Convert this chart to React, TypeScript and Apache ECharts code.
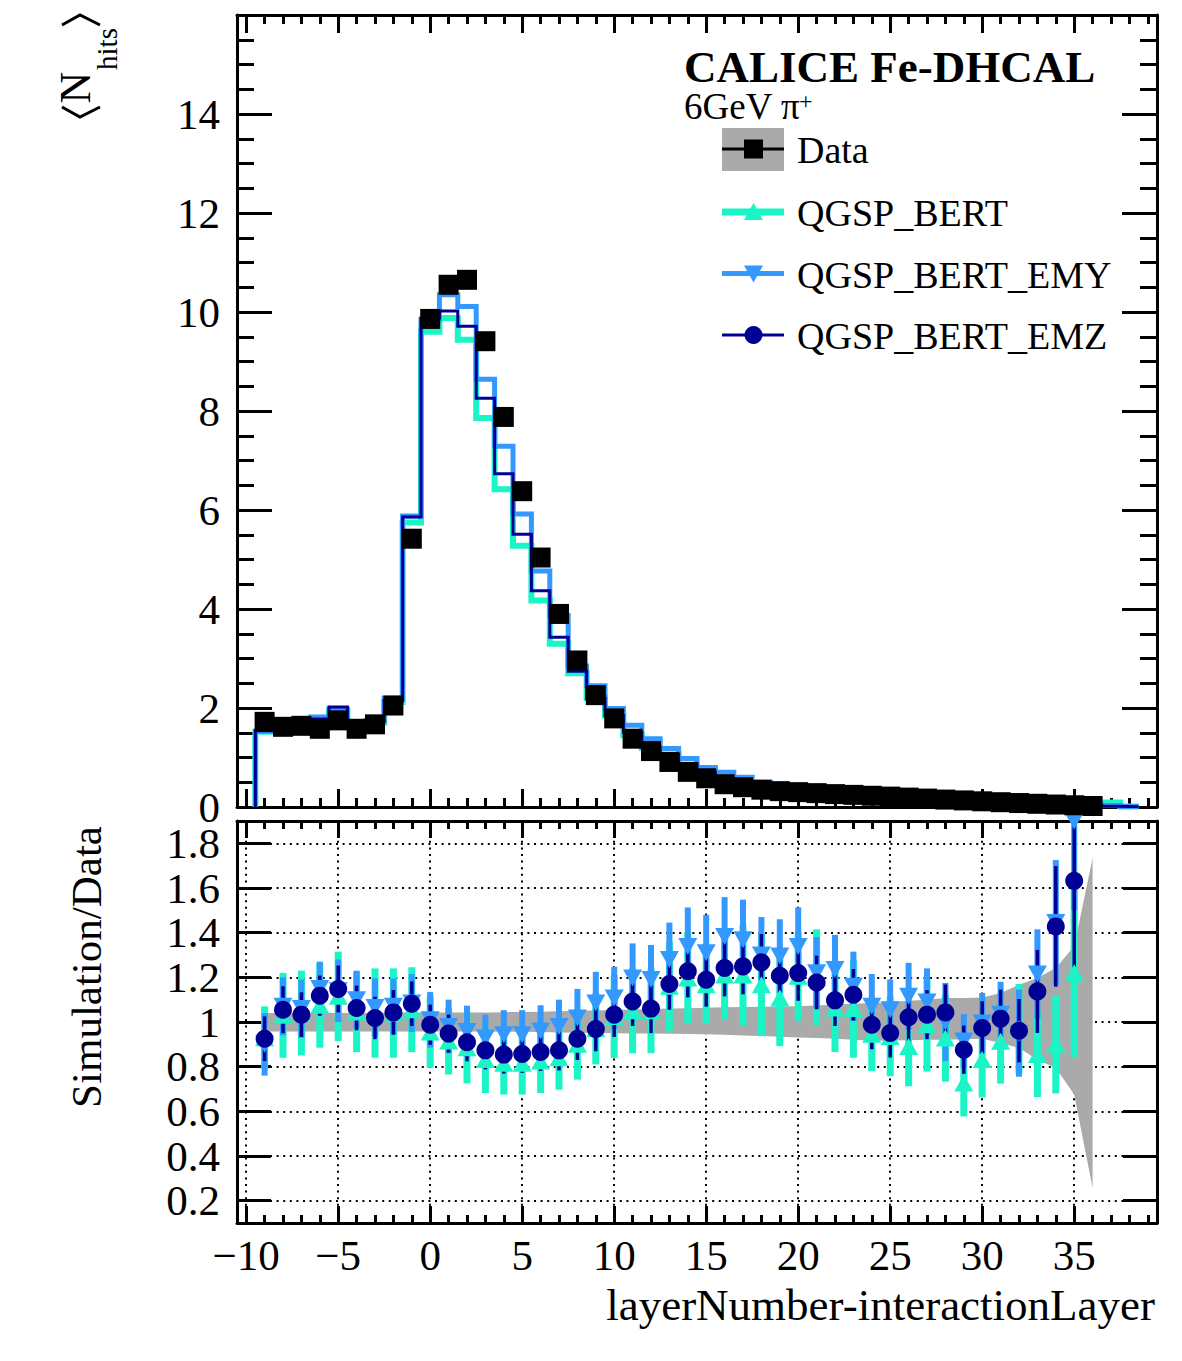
import React, { useEffect, useRef } from "react";
import * as echarts from "echarts";

const FONT = "'Liberation Serif', 'Times New Roman', serif";
const BERT_COLOR = "#19f5c6";
const EMY_COLOR = "#3399ff";
const EMZ_COLOR = "#000094";
const BAND_GREY = "#aaaaaa";

const X_MIN = -10.5;
const X_MAX = 39.5;
const HITS_MIN = 0;
const HITS_MAX = 16;
const RATIO_MIN = 0.1;
const RATIO_MAX = 1.9;

// Mean number of hits per layer, relative to the interaction layer (data)
const dataLayers = [
  -9, -8, -7, -6, -5, -4, -3, -2, -1, 0, 1, 2, 3, 4, 5, 6, 7, 8, 9, 10, 11, 12, 13,
  14, 15, 16, 17, 18, 19, 20, 21, 22, 23, 24, 25, 26, 27, 28, 29, 30, 31, 32, 33, 34,
  35, 36,
];
const dataHits = [
  1.72, 1.62, 1.64, 1.58, 1.75, 1.58, 1.67, 2.05, 5.42,
  9.86, 10.55, 10.65, 9.41, 7.88, 6.38, 5.04, 3.9, 2.96, 2.26,
  1.79, 1.38, 1.13, 0.91, 0.71, 0.58, 0.46, 0.4, 0.35, 0.32,
  0.3, 0.28, 0.26, 0.245, 0.227, 0.21, 0.19, 0.17, 0.15, 0.133,
  0.115, 0.097, 0.08, 0.065, 0.05, 0.035, 0.02,
];

// Simulated histograms (one bin per layer)
const mcLayers = [
  -9, -8, -7, -6, -5, -4, -3, -2, -1, 0, 1, 2, 3, 4, 5, 6, 7, 8, 9, 10, 11, 12, 13,
  14, 15, 16, 17, 18, 19, 20, 21, 22, 23, 24, 25, 26, 27, 28, 29, 30, 31, 32, 33, 34,
  35, 36, 37, 38,
];
const bertHits = [
  1.52, 1.54, 1.58, 1.72, 1.93, 1.62, 1.7, 2.12, 5.75,
  9.6, 9.88, 9.44, 7.86, 6.42, 5.28, 4.17, 3.3, 2.7, 2.2,
  1.85, 1.45, 1.19, 1.06, 0.85, 0.68, 0.56, 0.48, 0.41, 0.354,
  0.33, 0.31, 0.26, 0.25, 0.21, 0.19, 0.165, 0.16, 0.135, 0.097,
  0.094, 0.087, 0.075, 0.056, 0.045, 0.04, 0.07, 0.09, 0.01,
];
const emyHits = [
  1.53, 1.55, 1.6, 1.82, 1.98, 1.66, 1.74, 2.2, 5.88,
  9.85, 10.35, 10.11, 8.64, 7.29, 5.92, 4.77, 3.87, 2.85, 2.45,
  1.99, 1.65, 1.38, 1.18, 0.98, 0.8, 0.7, 0.6, 0.5, 0.4,
  0.37, 0.32, 0.3, 0.27, 0.235, 0.215, 0.2, 0.18, 0.15, 0.122,
  0.112, 0.098, 0.076, 0.074, 0.065, 0.06, 0.05, 0.03, 0.01,
];
const emzHits = [
  1.54, 1.56, 1.6, 1.78, 2.02, 1.66, 1.72, 2.15, 5.86,
  9.88, 10.02, 9.71, 8.26, 6.73, 5.51, 4.37, 3.43, 2.74, 2.19,
  1.85, 1.51, 1.2, 1.06, 0.87, 0.69, 0.57, 0.5, 0.44, 0.38,
  0.35, 0.31, 0.275, 0.265, 0.22, 0.2, 0.19, 0.172, 0.153, 0.117,
  0.11, 0.096, 0.077, 0.07, 0.065, 0.05, 0.03, 0.015, 0.005,
];

// Simulation / data ratios with their uncertainties
const ratioLayers = [
  -9, -8, -7, -6, -5, -4, -3, -2, -1, 0, 1, 2, 3, 4, 5, 6, 7, 8, 9, 10, 11, 12, 13,
  14, 15, 16, 17, 18, 19, 20, 21, 22, 23, 24, 25, 26, 27, 28, 29, 30, 31, 32, 33, 34,
  35,
];
const bertRatio = [
  0.93, 1.03, 1.04, 1.075, 1.115, 1.045, 1.04, 1.04, 1.055,
  0.955, 0.915, 0.885, 0.832, 0.815, 0.815, 0.825, 0.84, 0.9, 0.97,
  1.025, 1.05, 1.05, 1.16, 1.197, 1.167, 1.21, 1.21, 1.167, 1.107,
  1.205, 1.2, 1.063, 1.06, 0.945, 0.935, 0.89, 0.988, 0.928, 0.727,
  0.832, 0.914, 0.97, 0.854, 0.9, 1.22,
];
const bertRatioErr = [
  0.14, 0.19, 0.19, 0.19, 0.2, 0.18, 0.2, 0.2, 0.19,
  0.16, 0.15, 0.16, 0.15, 0.14, 0.14, 0.143, 0.143, 0.158, 0.16,
  0.186, 0.19, 0.19, 0.2, 0.205, 0.175, 0.2, 0.225, 0.23, 0.215,
  0.2, 0.215, 0.197, 0.22, 0.165, 0.178, 0.178, 0.21, 0.195, 0.15,
  0.17, 0.19, 0.2, 0.19, 0.22, 0.38,
];
const emyRatio = [
  0.9, 1.07, 1.06, 1.15, 1.14, 1.1, 1.065, 1.07, 1.085,
  1.01, 0.98, 0.958, 0.928, 0.943, 0.943, 0.96, 0.98, 1.018, 1.085,
  1.107, 1.197, 1.19, 1.28, 1.338, 1.31, 1.383, 1.368, 1.3, 1.295,
  1.338, 1.22, 1.235, 1.16, 1.07, 1.055, 1.115, 1.09, 1.0, 0.915,
  0.995, 1.035, 0.95, 1.215, 1.445, 1.9,
];
const emyRatioErr = [
  0.14, 0.13, 0.13, 0.12, 0.14, 0.13, 0.13, 0.125, 0.13,
  0.125, 0.12, 0.115, 0.105, 0.11, 0.11, 0.115, 0.12, 0.13, 0.14,
  0.14, 0.155, 0.155, 0.165, 0.175, 0.17, 0.176, 0.18, 0.17, 0.165,
  0.175, 0.16, 0.155, 0.155, 0.145, 0.135, 0.15, 0.15, 0.175, 0.12,
  0.135, 0.145, 0.195, 0.2, 0.28, 0.4,
];
const emzRatio = [
  0.925, 1.055, 1.033, 1.118, 1.148, 1.063, 1.018, 1.043, 1.082,
  0.988, 0.948, 0.909, 0.873, 0.854, 0.857, 0.866, 0.873, 0.925, 0.969,
  1.033, 1.092, 1.06, 1.17, 1.227, 1.189, 1.242, 1.249, 1.267, 1.207,
  1.219, 1.177, 1.097, 1.122, 0.988, 0.951, 1.021, 1.033, 1.043, 0.876,
  0.973, 1.015, 0.961, 1.137, 1.428, 1.632,
];
const emzRatioErr = [
  0.1, 0.105, 0.1, 0.09, 0.105, 0.1, 0.095, 0.1, 0.1,
  0.09, 0.085, 0.085, 0.085, 0.085, 0.085, 0.085, 0.09, 0.095, 0.1,
  0.1, 0.11, 0.11, 0.115, 0.117, 0.12, 0.127, 0.125, 0.127, 0.125,
  0.124, 0.12, 0.115, 0.115, 0.11, 0.11, 0.11, 0.11, 0.125, 0.108,
  0.12, 0.13, 0.142, 0.186, 0.27, 0.44,
];

// Relative data uncertainty band around 1
const bandLayers = dataLayers;
const bandUpper = [
  1.04, 1.04, 1.041, 1.04, 1.04, 1.041, 1.04, 1.042, 1.042,
  1.042, 1.042, 1.043, 1.043, 1.044, 1.045, 1.046, 1.048, 1.05, 1.052,
  1.054, 1.056, 1.058, 1.06, 1.062, 1.064, 1.066, 1.067, 1.068, 1.069,
  1.07, 1.074, 1.078, 1.082, 1.085, 1.09, 1.095, 1.1, 1.107, 1.108,
  1.11, 1.13, 1.167, 1.197, 1.242, 1.339, 1.734,
];
const bandLower = [
  0.958, 0.958, 0.958, 0.958, 0.958, 0.958, 0.958, 0.958, 0.958,
  0.958, 0.958, 0.957, 0.957, 0.956, 0.956, 0.955, 0.953, 0.952, 0.951,
  0.95, 0.949, 0.948, 0.947, 0.946, 0.945, 0.943, 0.94, 0.937, 0.934,
  0.931, 0.928, 0.925, 0.92, 0.916, 0.917, 0.918, 0.92, 0.921, 0.923,
  0.925, 0.906, 0.884, 0.831, 0.794, 0.675, 0.257,
];

// Turn per-layer bin contents into a stepped outline (bin width 1)
function histogramOutline(bins: number[], vals: number[]) {
  const pts: number[][] = [[bins[0] - 0.5, 0]];
  bins.forEach((b, i) => {
    pts.push([b - 0.5, vals[i]], [b + 0.5, vals[i]]);
  });
  pts.push([bins[bins.length - 1] + 0.5, 0]);
  return pts;
}

const tickLine = { color: "#000", width: 3 };
const frameLine = { show: true, onZero: false, lineStyle: { color: "#000", width: 3 } };
const dotted = { color: "#000", width: 2, type: [2, 4.6] as number[] };
const labelFont = { fontFamily: FONT, fontSize: 43, color: "#000" };
const minus = (v: number) => (v < 0 ? "\u2212" + Math.abs(v) : String(v));

function xAxisFor(gridIndex: number, position: string, major: number, minor: number, labels: boolean, grid: boolean) {
  return {
    type: "value",
    gridIndex,
    position,
    min: X_MIN,
    max: X_MAX,
    splitNumber: 10,
    axisLine: frameLine,
    axisTick: { show: true, inside: true, length: major, lineStyle: tickLine },
    minorTick: { show: true, splitNumber: 5, length: minor, lineStyle: tickLine },
    axisLabel: {
      show: labels,
      ...labelFont,
      margin: 11,
      showMinLabel: false,
      showMaxLabel: false,
      formatter: minus,
    },
    splitLine: { show: grid, showMinLine: false, showMaxLine: false, lineStyle: dotted },
    minorSplitLine: { show: false },
  };
}

function hitsAxis(position: string, labels: boolean) {
  return {
    type: "value",
    gridIndex: 0,
    position,
    min: HITS_MIN,
    max: HITS_MAX,
    interval: 2,
    axisLine: frameLine,
    axisTick: { show: true, inside: true, length: 35, lineStyle: tickLine },
    minorTick: { show: true, splitNumber: 4, length: 17, lineStyle: tickLine },
    axisLabel: { show: labels, ...labelFont, margin: 17, showMaxLabel: false },
    splitLine: { show: false },
  };
}

function ratioAxis(position: string, labels: boolean) {
  return {
    type: "value",
    gridIndex: 1,
    position,
    min: RATIO_MIN,
    max: RATIO_MAX,
    splitNumber: 9,
    axisLine: frameLine,
    axisTick: { show: true, inside: true, length: 34, lineStyle: tickLine },
    minorTick: { show: false },
    axisLabel: {
      show: labels,
      ...labelFont,
      margin: 17,
      showMinLabel: false,
      showMaxLabel: false,
      formatter: (v: number) => String(Math.round(v * 10) / 10),
    },
    splitLine: { show: labels, showMinLine: false, showMaxLine: false, lineStyle: dotted },
  };
}

function histSeries(name: string, vals: number[], color: string, width: number) {
  return {
    name,
    type: "line",
    xAxisIndex: 0,
    yAxisIndex: 0,
    data: histogramOutline(mcLayers, vals),
    showSymbol: false,
    symbol: "none",
    silent: true,
    clip: true,
    lineStyle: { color, width, join: "miter", cap: "butt" },
  };
}

function errorBars(name: string, vals: number[], errs: number[], color: string, width: number) {
  return {
    name: name + " errors",
    type: "custom",
    xAxisIndex: 2,
    yAxisIndex: 2,
    silent: true,
    clip: true,
    data: ratioLayers.map((x, i) => [x, vals[i], errs[i]]),
    encode: { x: 0, y: 1 },
    renderItem: (_params: any, api: any) => {
      const x = api.value(0) as number;
      const v = api.value(1) as number;
      const e = api.value(2) as number;
      const a = api.coord([x, Math.min(v + e, RATIO_MAX)]);
      const b = api.coord([x, Math.max(v - e, RATIO_MIN)]);
      return {
        type: "line",
        shape: { x1: a[0], y1: a[1], x2: b[0], y2: b[1] },
        style: { stroke: color, lineWidth: width },
      };
    },
  };
}

function ratioMarkers(name: string, vals: number[], color: string, symbol: string, size: number | number[], rotate: number) {
  return {
    name,
    type: "scatter",
    xAxisIndex: 2,
    yAxisIndex: 2,
    data: ratioLayers.map((x, i) => [x, vals[i]]),
    symbol,
    symbolSize: size,
    symbolRotate: rotate,
    itemStyle: { color, opacity: 1 },
    silent: true,
    clip: false,
  };
}

function txt(text: string, x: number, y: number, size: number, opts: any = {}) {
  return {
    type: "text",
    x,
    y,
    rotation: opts.rotation || 0,
    silent: true,
    style: {
      text,
      x: 0,
      y: 0,
      fill: "#000",
      fontFamily: FONT,
      fontSize: size,
      fontWeight: opts.bold ? "bold" : "normal",
      align: opts.align || "left",
      verticalAlign: "middle",
      textAlign: opts.align || "left",
      textVerticalAlign: "middle",
    },
  };
}

const LEG_X0 = 722;
const LEG_X1 = 784;
const LEG_MX = 753.5;
const legendRows = [149, 212, 273.5, 335];
const legendNames = ["Data", "QGSP_BERT", "QGSP_BERT_EMY", "QGSP_BERT_EMZ"];

function buildGraphics() {
  const g: any[] = [];
  // Legend
  g.push({ type: "rect", silent: true, shape: { x: LEG_X0, y: 128, width: LEG_X1 - LEG_X0, height: 43 }, style: { fill: BAND_GREY } });
  g.push({ type: "line", silent: true, shape: { x1: LEG_X0, y1: legendRows[0], x2: LEG_X1, y2: legendRows[0] }, style: { stroke: "#000", lineWidth: 3 } });
  g.push({ type: "rect", silent: true, shape: { x: LEG_MX - 9.5, y: legendRows[0] - 9.5, width: 19, height: 19 }, style: { fill: "#000" } });

  g.push({ type: "line", silent: true, shape: { x1: LEG_X0, y1: legendRows[1], x2: LEG_X1, y2: legendRows[1] }, style: { stroke: BERT_COLOR, lineWidth: 7 } });
  g.push({ type: "polygon", silent: true, shape: { points: [[LEG_MX, legendRows[1] - 9], [LEG_MX - 9.5, legendRows[1] + 8], [LEG_MX + 9.5, legendRows[1] + 8]] }, style: { fill: BERT_COLOR } });

  g.push({ type: "line", silent: true, shape: { x1: LEG_X0, y1: legendRows[2], x2: LEG_X1, y2: legendRows[2] }, style: { stroke: EMY_COLOR, lineWidth: 5 } });
  g.push({ type: "polygon", silent: true, shape: { points: [[LEG_MX - 9.5, legendRows[2] - 8], [LEG_MX + 9.5, legendRows[2] - 8], [LEG_MX, legendRows[2] + 9]] }, style: { fill: EMY_COLOR } });

  g.push({ type: "line", silent: true, shape: { x1: LEG_X0, y1: legendRows[3], x2: LEG_X1, y2: legendRows[3] }, style: { stroke: EMZ_COLOR, lineWidth: 3 } });
  g.push({ type: "circle", silent: true, shape: { cx: LEG_MX, cy: legendRows[3], r: 9 }, style: { fill: EMZ_COLOR } });

  legendNames.forEach((n, i) => g.push(txt(n, 797, legendRows[i] + 1, 38)));

  // Experiment label
  g.push(txt("CALICE Fe-DHCAL", 684, 67, 45, { bold: true }));
  g.push(txt("6GeV \u03c0", 684, 106, 37));
  g.push(txt("+", 799, 101, 24));

  // Upper y-axis title: <N_hits>
  g.push({ type: "polyline", silent: true, shape: { points: [[62, 107], [80, 117], [100, 107]] }, style: { stroke: "#000", lineWidth: 3, fill: null } });
  g.push({ type: "polyline", silent: true, shape: { points: [[62, 25], [80, 15], [100, 25]] }, style: { stroke: "#000", lineWidth: 3, fill: null } });
  g.push(txt("N", 75, 87.5, 44, { rotation: Math.PI / 2, align: "center" }));
  g.push(txt("hits", 107, 49, 29, { rotation: Math.PI / 2, align: "center" }));

  // Lower y-axis title and x-axis title
  g.push(txt("Simulation/Data", 86, 967, 43, { rotation: Math.PI / 2, align: "center" }));
  g.push(txt("layerNumber-interactionLayer", 1155, 1305, 45, { align: "right" }));
  return g;
}

function buildOption() {
  return {
    animation: false,
    backgroundColor: "#ffffff",
    textStyle: { fontFamily: FONT },
    grid: [
      { left: 237, top: 15, width: 920, height: 792, containLabel: false, outerBoundsMode: "none" },
      { left: 237, top: 821, width: 920, height: 402, containLabel: false, outerBoundsMode: "none" },
    ],
    xAxis: [
      xAxisFor(0, "bottom", 18, 9, false, false),
      xAxisFor(0, "top", 18, 9, false, false),
      xAxisFor(1, "bottom", 17, 8, true, true),
      xAxisFor(1, "top", 17, 8, false, false),
    ],
    yAxis: [hitsAxis("left", true), hitsAxis("right", false), ratioAxis("left", true), ratioAxis("right", false)],
    series: [
      histSeries("QGSP_BERT", bertHits, BERT_COLOR, 6),
      histSeries("QGSP_BERT_EMY", emyHits, EMY_COLOR, 5),
      histSeries("QGSP_BERT_EMZ", emzHits, EMZ_COLOR, 3),
      {
        name: "Data",
        type: "scatter",
        xAxisIndex: 0,
        yAxisIndex: 0,
        data: dataLayers.map((x, i) => [x, dataHits[i]]),
        symbol: "rect",
        symbolSize: 20,
        itemStyle: { color: "#000", opacity: 1 },
        silent: true,
        clip: false,
        z: 5,
      },
      {
        name: "Data uncertainty",
        type: "custom",
        xAxisIndex: 2,
        yAxisIndex: 2,
        silent: true,
        data: bandLayers.map((x, i) => [x, bandLower[i], bandUpper[i]]),
        encode: { x: 0, y: [1, 2] },
        renderItem: (params: any, api: any) => {
          if (params.dataIndex !== 0) return null;
          const pts: number[][] = [];
          bandLayers.forEach((x, i) => pts.push(api.coord([x, bandUpper[i]])));
          for (let i = bandLayers.length - 1; i >= 0; i--) pts.push(api.coord([bandLayers[i], bandLower[i]]));
          return { type: "polygon", shape: { points: pts }, style: { fill: BAND_GREY } };
        },
      },
      errorBars("QGSP_BERT", bertRatio, bertRatioErr, BERT_COLOR, 7),
      ratioMarkers("QGSP_BERT ratio", bertRatio, BERT_COLOR, "triangle", [19, 17], 0),
      errorBars("QGSP_BERT_EMY", emyRatio, emyRatioErr, EMY_COLOR, 6),
      ratioMarkers("QGSP_BERT_EMY ratio", emyRatio, EMY_COLOR, "triangle", [19, 17], 180),
      errorBars("QGSP_BERT_EMZ", emzRatio, emzRatioErr, EMZ_COLOR, 3.5),
      ratioMarkers("QGSP_BERT_EMZ ratio", emzRatio, EMZ_COLOR, "circle", 18, 0),
    ],
    graphic: buildGraphics(),
  };
}

export default function App() {
  const ref = useRef<HTMLDivElement>(null);
  useEffect(() => {
    if (!ref.current) return;
    const chart = echarts.init(ref.current, null, { renderer: "svg" });
    chart.setOption(buildOption() as any);
    return () => chart.dispose();
  }, []);
  return (
    <div
      ref={ref}
      style={{ position: "fixed", left: 0, top: 0, width: 1182, height: 1361, background: "#fff" }}
    />
  );
}
